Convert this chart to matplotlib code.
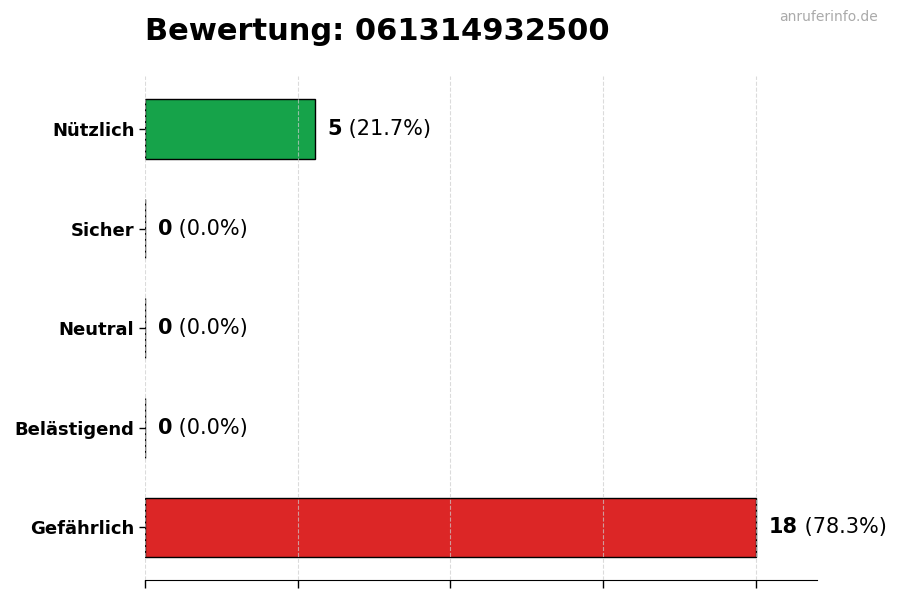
import numpy as np
import matplotlib.pyplot as plt

# Bewertungen (von oben nach unten)
categories = ['Nützlich', 'Sicher', 'Neutral', 'Belästigend', 'Gefährlich']
counts = [5, 0, 0, 0, 18]
colors = ['#16a34a', '#16a34a', '#9ca3af', '#f97316', '#dc2626']
title = 'Bewertung: 061314932500'

total = sum(counts)
vmax = max(counts)

fig = plt.figure(figsize=(9, 6), dpi=100)
ax = fig.add_axes([0.161, 0.033, 0.747, 0.840])

y = np.arange(len(categories))
ax.barh(y, counts, height=0.6, color=colors, edgecolor='black', linewidth=1, zorder=2)
ax.invert_yaxis()

ax.set_xlim(0, vmax * 1.1)
ax.set_xticks(np.linspace(0, vmax, 5))
ax.set_xticklabels([])
ax.set_yticks(y)
ax.set_yticklabels(categories, fontsize=13, fontweight='bold')
ax.tick_params(axis='x', length=6, width=1)
ax.tick_params(axis='y', length=4, width=1)

ax.grid(axis='x', linestyle='--', color='#cccccc', alpha=0.7, linewidth=0.8, zorder=3)
ax.set_axisbelow(False)
for s in ['top', 'right', 'left']:
    ax.spines[s].set_visible(False)

# Werte-Beschriftung: Zahl fett, Prozent normal
for yi, c in zip(y, counts):
    pct = c / total * 100
    t = ax.text(c + vmax * 0.021, yi, str(c), fontsize=15, fontweight='bold',
                va='center', ha='left', zorder=4)
    ax.annotate(f' ({pct:.1f}%)', xy=(1, 0), xycoords=t, fontsize=15,
                va='bottom', ha='left')

ax.set_title(title, loc='left', fontsize=22, fontweight='bold', pad=26)
fig.text(0.975, 0.971, 'anruferinfo.de', ha='right', va='center',
         fontsize=10, color='#aaaaaa')

fig.savefig('out.png', dpi=100)
